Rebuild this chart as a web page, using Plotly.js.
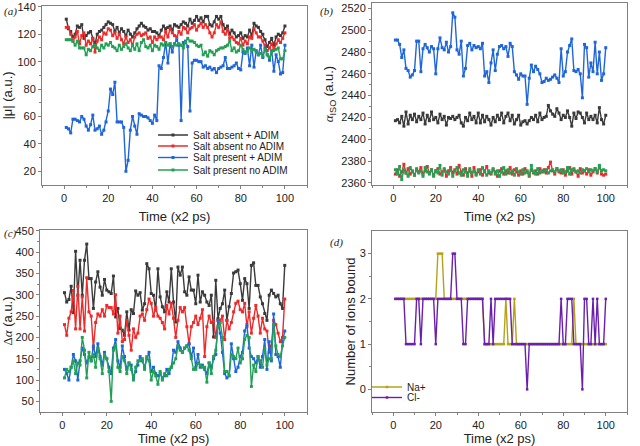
<!DOCTYPE html>
<html><head><meta charset="utf-8">
<script src="https://cdn.plot.ly/plotly-3.0.1.min.js"></script>
<style>html,body{margin:0;padding:0;background:#fff}#c{width:640px;height:446px}</style>
</head><body><div id="c"></div>
<script>
var time = [1,2,3,4,5,6,7,8,9,10,11,12,13,14,15,16,17,18,19,20,21,22,23,24,25,26,27,28,29,30,31,32,33,34,35,36,37,38,39,40,41,42,43,44,45,46,47,48,49,50,51,52,53,54,55,56,57,58,59,60,61,62,63,64,65,66,67,68,69,70,71,72,73,74,75,76,77,78,79,80,81,82,83,84,85,86,87,88,89,90,91,92,93,94,95,96,97,98,99,100];
var seriesNames = ["Salt absent + ADIM","Salt absent no ADIM","Salt present + ADIM","Salt present no ADIM"];
var ionNames = ["Na+","Cl-"];

// (a) |mu|
var muAbsentADIM = [131,124,122,118,120,126,125,127,117,119,121,122,117,113,120,122,123,125,127,129,128,127,122,125,121,124,122,119,123,120,118,121,124,126,128,126,125,123,124,122,122,121,119,123,126,124,125,126,123,127,126,125,127,129,128,126,131,128,130,133,130,132,129,133,133,127,126,129,133,131,133,127,124,126,120,123,121,118,119,121,117,119,118,123,119,128,126,125,122,120,116,111,114,117,112,118,120,119,121,126];
var muAbsentNo = [125,125,120,115,118,122,113,119,121,112,115,113,117,107,115,118,116,121,120,124,123,119,121,117,120,116,113,118,114,116,112,118,120,121,119,120,121,117,118,114,118,116,118,118,116,122,118,124,121,119,118,122,120,125,124,121,124,125,127,123,126,128,125,127,125,121,118,121,127,125,129,122,120,123,117,118,116,114,113,117,112,115,113,118,117,124,121,118,118,115,112,108,110,113,109,113,116,114,117,121];
var muPresentADIM = [52,51,48,58,58,57,56,60,58,53,50,54,61,50,51,53,47,50,56,64,80,76,85,56,56,56,52,20,28,50,60,53,47,62,61,60,60,59,57,55,61,57,97,95,103,114,99,113,107,113,116,112,57,114,115,111,64,99,101,101,100,100,96,97,95,96,94,95,92,95,96,97,103,95,95,96,97,99,95,94,107,106,110,97,112,96,108,105,112,103,110,105,101,108,93,105,100,91,92,112];
var muPresentNo = [116,116,116,115,112,115,110,110,110,105,109,108,111,112,110,108,112,110,113,112,114,111,110,108,112,109,111,113,110,108,112,109,113,108,114,116,111,110,112,108,112,111,109,113,112,114,112,113,111,113,112,113,112,110,114,117,115,115,114,112,111,112,105,107,104,108,107,105,108,109,110,110,111,112,115,108,110,107,108,112,109,107,108,110,108,109,107,105,106,104,109,105,103,107,108,109,110,102,102,108];

// (b) alpha_ISO
var isoAbsentADIM = [2417,2418,2415,2421,2412,2425,2414,2422,2418,2423,2416,2421,2418,2424,2414,2422,2417,2425,2418,2420,2415,2423,2418,2421,2413,2420,2419,2421,2418,2420,2422,2415,2412,2420,2417,2424,2418,2421,2415,2424,2415,2422,2416,2421,2418,2413,2420,2416,2422,2418,2424,2415,2421,2424,2417,2422,2414,2418,2422,2413,2416,2417,2414,2417,2420,2418,2422,2416,2424,2418,2420,2421,2431,2426,2423,2421,2428,2424,2418,2422,2420,2426,2420,2412,2424,2419,2425,2424,2420,2415,2424,2418,2421,2418,2422,2415,2429,2418,2414,2422];
var isoAbsentNo = [2368,2372,2366,2370,2377,2369,2373,2368,2371,2367,2372,2370,2374,2368,2371,2375,2369,2372,2367,2371,2373,2368,2370,2372,2366,2371,2374,2369,2372,2368,2376,2370,2367,2373,2369,2371,2366,2374,2368,2370,2372,2367,2371,2375,2369,2368,2372,2370,2366,2371,2373,2368,2371,2369,2374,2368,2372,2370,2367,2371,2368,2373,2370,2366,2372,2369,2371,2368,2373,2370,2372,2369,2374,2379,2371,2368,2373,2370,2369,2372,2367,2371,2374,2368,2372,2370,2366,2373,2369,2371,2368,2372,2367,2370,2373,2369,2375,2368,2367,2368];
var isoPresentADIM = [2491,2491,2487,2475,2482,2465,2463,2457,2459,2463,2490,2490,2462,2483,2487,2484,2480,2485,2483,2460,2483,2493,2484,2482,2489,2480,2485,2516,2512,2482,2478,2490,2458,2465,2486,2488,2482,2486,2484,2485,2483,2488,2458,2462,2452,2470,2482,2463,2478,2485,2486,2483,2485,2476,2488,2485,2462,2459,2455,2460,2458,2458,2432,2456,2468,2462,2467,2464,2460,2452,2453,2456,2454,2455,2457,2459,2456,2452,2483,2458,2462,2480,2486,2492,2463,2462,2464,2460,2438,2487,2484,2457,2470,2462,2489,2460,2480,2454,2460,2484];
var isoPresentNo = [2372,2368,2375,2363,2372,2369,2366,2374,2370,2367,2373,2369,2371,2366,2374,2370,2368,2372,2366,2371,2369,2376,2367,2373,2370,2368,2372,2366,2371,2374,2369,2367,2372,2370,2366,2373,2369,2371,2367,2372,2368,2374,2370,2367,2371,2369,2373,2368,2371,2366,2370,2374,2368,2372,2369,2371,2367,2373,2370,2368,2372,2369,2371,2367,2376,2370,2368,2373,2369,2371,2370,2372,2369,2371,2372,2370,2373,2371,2372,2369,2370,2374,2368,2372,2373,2370,2371,2369,2372,2371,2373,2370,2372,2371,2373,2370,2376,2371,2372,2371];

// (c) delta alpha
var daAbsentADIM = [305,283,289,320,258,402,299,381,299,381,419,338,338,268,330,354,318,299,336,311,307,303,344,248,268,221,217,205,260,217,265,256,309,299,305,264,279,373,361,303,299,264,361,295,272,260,307,283,361,283,236,365,346,365,307,299,342,311,311,279,346,283,307,299,283,275,299,201,334,244,268,279,311,240,272,303,351,354,358,326,287,338,326,268,369,375,322,322,295,279,256,240,299,311,303,295,299,279,268,369];
var daAbsentNo = [230,205,245,260,310,220,320,220,295,215,340,260,250,175,235,255,250,265,250,275,270,270,255,300,210,250,190,195,240,205,170,220,200,210,250,255,240,265,290,280,250,270,250,245,235,220,275,255,280,245,200,240,270,260,270,225,185,225,235,250,230,245,265,155,225,250,235,240,200,240,240,250,195,240,220,235,260,280,285,265,260,280,225,260,210,245,275,250,210,245,220,215,165,180,240,230,210,190,200,290];
var daPresentADIM = [125,115,100,130,160,145,100,145,175,160,140,155,145,180,155,185,155,135,165,150,130,115,175,195,145,130,180,155,125,140,135,105,120,135,155,145,130,150,165,120,130,115,110,115,105,110,125,115,130,170,165,190,175,165,175,180,185,155,175,130,160,130,135,125,115,140,130,150,160,240,210,165,115,105,110,185,150,120,130,155,165,215,230,175,155,150,140,155,130,155,195,125,190,145,255,160,155,130,190,215];
var daPresentNo = [105,125,120,130,145,115,140,135,200,170,105,165,145,160,130,175,150,115,160,150,120,50,170,180,130,120,155,145,115,140,125,100,130,145,145,150,125,155,145,100,120,110,90,120,100,115,110,125,130,140,150,180,170,165,175,180,170,150,125,125,140,135,130,130,95,140,115,155,170,225,235,200,120,120,110,160,155,150,175,140,150,195,205,200,85,135,120,155,145,130,175,135,150,150,230,180,160,155,180,200];

// (d) ions bound
var naBound = [2,2,2,2,2,2,2,2,2,2,2,2,2,2,2,2,2,2,2,2,3,3,3,2,2,2,2,2,2,2,2,2,2,2,2,2,2,2,2,2,2,2,1,1,1,1,1,1,1,1,1,1,2,1,1,1,2,1,1,1,1,1,1,1,1,1,1,1,1,1,1,1,1,1,1,1,1,1,1,1,1,1,1,1,2,1,1,1,1,1,1,1,1,1,1,1,1,1,1,1];
var clBound = [2,2,2,2,2,1,1,1,1,1,2,2,1,2,2,2,2,2,2,1,2,2,2,2,2,2,2,3,3,2,2,2,1,1,2,2,2,2,2,2,2,2,1,1,1,2,1,2,2,2,2,2,2,2,2,1,1,1,1,1,1,1,0,1,1,1,1,1,1,1,1,1,1,1,1,1,1,1,2,1,1,2,2,2,1,1,1,1,0,2,2,1,1,2,1,2,1,1,1,2];

var colors = ["#3a3a3a","#ee2a2a","#1f66d9","#23a055"];
var ionColors = ["#b5a21a","#6b20ad"];
var legendY = [135,146,157.5,170];

var traces = [];
function mk(y, i, xa, ya, leg){
  return {x: time, y: y, xaxis: xa, yaxis: ya, type: "scatter", mode: "lines+markers",
    name: seriesNames[i], line: {color: colors[i], width: 1.4},
    marker: {symbol: "square", size: 3, color: colors[i]},
    showlegend: !!leg, legend: leg || "legend"};
}
var aSets = [muAbsentADIM, muAbsentNo, muPresentADIM, muPresentNo];
var bSets = [isoAbsentADIM, isoAbsentNo, isoPresentADIM, isoPresentNo];
var cSets = [daAbsentADIM, daAbsentNo, daPresentADIM, daPresentNo];
var legIds = ["legend","legend2","legend3","legend4"];
for (var i=0;i<4;i++) traces.push(mk(aSets[i], i, "x", "y", legIds[i]));
for (var i=0;i<4;i++) traces.push(mk(bSets[i], i, "x2", "y2"));
for (var i=0;i<4;i++) traces.push(mk(cSets[i], i, "x3", "y3"));
var ionSets = [naBound, clBound];
for (var j=0;j<2;j++) traces.push({x: time, y: ionSets[j], xaxis: "x4", yaxis: "y4", type: "scatter",
  mode: "lines+markers", name: ionNames[j], line: {color: ionColors[j], width: 1.4},
  marker: {symbol: "square", size: 2.5, color: ionColors[j]}, showlegend: true, legend: "legend" + (5+j)});

var W = 640, H = 446;
function dx(a,b){return [a/W, b/W];}
function dy(top,bot){return [1-bot/H, 1-top/H];}
function tickFont(){ return {family: "Liberation Sans, Arial, sans-serif", size: 11, color: "#222"}; }
function titleFont(){ return {family: "Liberation Sans, Arial, sans-serif", size: 13, color: "#222"}; }
function xax(dom, anchor){
  return {domain: dom, anchor: anchor, range: [-10,110], tickvals: [0,20,40,60,80,100],
    showline: true, mirror: true, linecolor: "#808080", linewidth: 1, ticks: "outside", ticklen: 3,
    tickcolor: "#808080", showgrid: false, zeroline: false, tickfont: tickFont(),
    minor: {tickvals: [-10,10,30,50,70,90,110], ticks: "outside", ticklen: 2, tickcolor: "#808080", showgrid: false},
    title: {text: "Time (x2 ps)", font: titleFont(), standoff: 8}};
}
function yax(dom, anchor, range, tv, mv, title, so){
  return {domain: dom, anchor: anchor, range: range, tickvals: tv,
    showline: true, mirror: true, linecolor: "#808080", linewidth: 1, ticks: "outside", ticklen: 3,
    tickcolor: "#808080", showgrid: false, zeroline: false, tickfont: tickFont(),
    minor: {tickvals: mv, ticks: "outside", ticklen: 2, tickcolor: "#808080", showgrid: false},
    title: {text: title, font: titleFont(), standoff: so}};
}
var serif = "font-family:'Liberation Serif','DejaVu Serif',serif";
var layout = {
  width: W, height: H, margin: {l:0, r:0, t:0, b:0}, paper_bgcolor: "#fff", plot_bgcolor: "#fff",
  xaxis: xax(dx(42,307), "y"),
  yaxis: yax(dy(6,185), "x", [10,140.6], [20,40,60,80,100,120,140], [30,50,70,90,110,130], "|μ| (a.u.)", 1),
  xaxis2: xax(dx(372,627), "y2"),
  yaxis2: yax(dy(3,185), "x2", [2358,2525], [2360,2380,2400,2420,2440,2460,2480,2500,2520],
    [2370,2390,2410,2430,2450,2470,2490,2510],
    "<span style=\"" + serif + "\"><i>α</i></span><sub>ISO</sub> (a.u.)", 4),
  xaxis3: xax(dx(40,307), "y3"),
  yaxis3: yax(dy(230,412), "x3", [25,452], [50,100,150,200,250,300,350,400,450],
    [75,125,175,225,275,325,375,425],
    "<span style=\"" + serif + "\">Δ<i>α</i></span> (a.u.)", 2),
  xaxis4: xax(dx(372,627), "y4"),
  yaxis4: yax(dy(231,412), "x4", [-0.5,3.5], [0,1,2,3], [0.5,1.5,2.5], "Number of ions bound", 1),
  annotations: [
    {text: "<i>(a)</i>", x: 2/W, y: 1-12/H},
    {text: "<i>(b)</i>", x: 318/W, y: 1-12/H},
    {text: "<i>(c)</i>", x: 2/W, y: 1-234/H},
    {text: "<i>(d)</i>", x: 328/W, y: 1-242/H}
  ].map(function(a){ return Object.assign({xref:"paper", yref:"paper", xanchor:"left", yanchor:"middle",
    showarrow:false, font:{family:"Liberation Serif, serif", size: 11, color:"#222"}}, a); })
};
for (var k=0;k<4;k++){
  layout[legIds[k]] = {x: 153/W, y: 1-legendY[k]/H, xanchor: "left", yanchor: "middle", bgcolor: "rgba(0,0,0,0)",
    borderwidth: 0, font: {family: "Liberation Sans, Arial, sans-serif", size: 10, color: "#222"}, itemwidth: 30, tracegroupgap: 0};
}
var ionLegY = [387, 397.5];
for (var k=0;k<2;k++){
  layout["legend" + (5+k)] = {x: 367/W, y: 1-ionLegY[k]/H, xanchor: "left", yanchor: "middle", bgcolor: "rgba(0,0,0,0)",
    borderwidth: 0, font: {family: "Liberation Sans, Arial, sans-serif", size: 10, color: "#222"}, itemwidth: 30, tracegroupgap: 0};
}
Plotly.newPlot("c", traces, layout, {displayModeBar: false, staticPlot: true});
</script></body></html>
